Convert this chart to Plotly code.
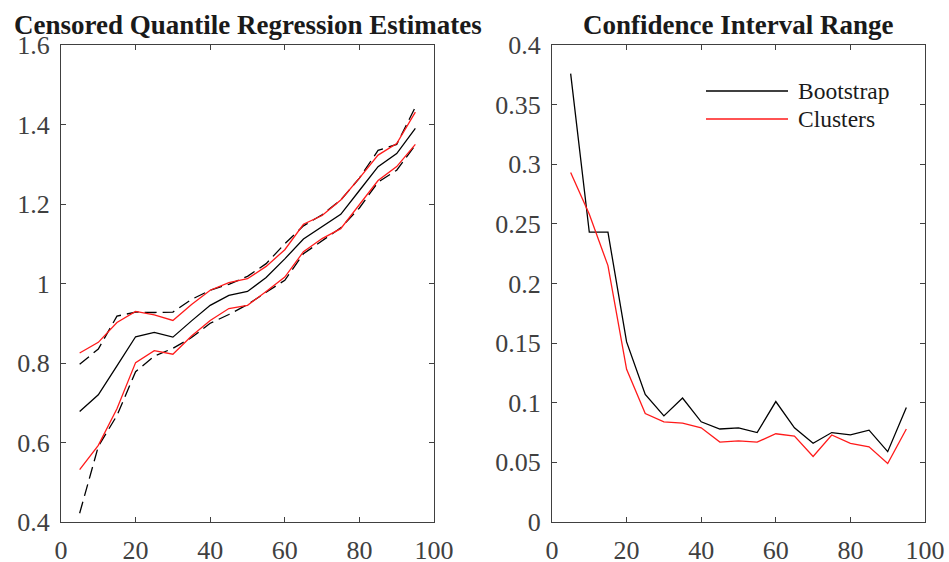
import plotly.graph_objects as go

# ---- data ----
quantiles = [5, 10, 15, 20, 25, 30, 35, 40, 45, 50, 55, 60, 65, 70, 75, 80, 85, 90, 95]

estimate = [0.678, 0.720, 0.793, 0.866, 0.877, 0.865, 0.906, 0.945, 0.970, 0.980,
            1.015, 1.062, 1.112, 1.143, 1.174, 1.234, 1.294, 1.327, 1.390]
clusters_upper = [0.825, 0.852, 0.902, 0.930, 0.921, 0.907, 0.947, 0.983, 1.002, 1.012,
                  1.043, 1.085, 1.149, 1.171, 1.210, 1.265, 1.323, 1.352, 1.431]
clusters_lower = [0.532, 0.593, 0.685, 0.801, 0.831, 0.822, 0.868, 0.907, 0.937, 0.945,
                  0.980, 1.016, 1.080, 1.113, 1.138, 1.198, 1.259, 1.294, 1.350]
bootstrap_upper = [0.797, 0.835, 0.918, 0.928, 0.927, 0.928, 0.960, 0.983, 0.998, 1.018,
                   1.050, 1.100, 1.145, 1.173, 1.210, 1.265, 1.335, 1.350, 1.444]
bootstrap_lower = [0.422, 0.590, 0.668, 0.778, 0.817, 0.837, 0.864, 0.900, 0.922, 0.947,
                   0.978, 1.008, 1.075, 1.108, 1.140, 1.190, 1.255, 1.285, 1.348]

range_bootstrap = [0.376, 0.243, 0.243, 0.151, 0.107, 0.089, 0.104, 0.084, 0.078, 0.079,
                   0.075, 0.101, 0.079, 0.066, 0.075, 0.073, 0.077, 0.059, 0.096]
range_clusters = [0.293, 0.258, 0.215, 0.128, 0.091, 0.084, 0.083, 0.079, 0.067, 0.068,
                  0.067, 0.074, 0.072, 0.055, 0.073, 0.066, 0.063, 0.049, 0.078]

x_ticks = [0, 20, 40, 60, 80, 100]
left_y_ticks = [0.4, 0.6, 0.8, 1.0, 1.2, 1.4, 1.6]
left_y_labels = ["0.4", "0.6", "0.8", "1", "1.2", "1.4", "1.6"]
right_y_ticks = [0, 0.05, 0.1, 0.15, 0.2, 0.25, 0.3, 0.35, 0.4]
right_y_labels = ["0", "0.05", "0.1", "0.15", "0.2", "0.25", "0.3", "0.35", "0.4"]

titles = ["Censored Quantile Regression Estimates", "Confidence Interval Range"]
legend_names = ["Bootstrap", "Clusters"]

# ---- style ----
W, H = 949, 562
FONT = "Liberation Serif"
AX = "#404040"
RED = "#ff1a1a"
BLACK = "#000000"
DASH = "12px,6px"
LW = 1.3


def px(x):
    return x / W


def py(y):
    return 1 - y / H


left_dom = [px(61), px(434)]
right_dom = [px(552), px(925)]
y_dom = [py(522), py(45)]

fig = go.Figure()

# left panel
fig.add_trace(go.Scatter(x=quantiles, y=bootstrap_upper, mode="lines",
                         line=dict(color=BLACK, width=LW, dash=DASH), xaxis="x", yaxis="y", showlegend=False))
fig.add_trace(go.Scatter(x=quantiles, y=bootstrap_lower, mode="lines",
                         line=dict(color=BLACK, width=LW, dash=DASH), xaxis="x", yaxis="y", showlegend=False))
fig.add_trace(go.Scatter(x=quantiles, y=estimate, mode="lines",
                         line=dict(color=BLACK, width=LW), xaxis="x", yaxis="y", showlegend=False))
fig.add_trace(go.Scatter(x=quantiles, y=clusters_upper, mode="lines",
                         line=dict(color=RED, width=LW), xaxis="x", yaxis="y", showlegend=False))
fig.add_trace(go.Scatter(x=quantiles, y=clusters_lower, mode="lines",
                         line=dict(color=RED, width=LW), xaxis="x", yaxis="y", showlegend=False))

# right panel
fig.add_trace(go.Scatter(x=quantiles, y=range_bootstrap, mode="lines", name=legend_names[0],
                         line=dict(color=BLACK, width=LW), xaxis="x2", yaxis="y2", showlegend=False))
fig.add_trace(go.Scatter(x=quantiles, y=range_clusters, mode="lines", name=legend_names[1],
                         line=dict(color=RED, width=LW), xaxis="x2", yaxis="y2", showlegend=False))

axis_common = dict(showline=True, mirror="allticks", linecolor=AX, linewidth=1,
                   ticks="inside", ticklen=5, tickcolor=AX, tickwidth=1,
                   showgrid=False, zeroline=False, automargin=False,
                   tickfont=dict(family=FONT, size=26, color=AX))

fig.update_layout(
    width=W, height=H,
    margin=dict(l=0, r=0, t=0, b=0, pad=0),
    paper_bgcolor="white", plot_bgcolor="white",
    xaxis=dict(domain=left_dom, range=[0, 100], tickvals=x_ticks, anchor="y",
               ticklabelstandoff=5, **axis_common),
    yaxis=dict(domain=y_dom, range=[0.4, 1.6], tickvals=left_y_ticks, ticktext=left_y_labels,
               anchor="x", ticklabelstandoff=5, **axis_common),
    xaxis2=dict(domain=right_dom, range=[0, 100], tickvals=x_ticks, anchor="y2",
                ticklabelstandoff=5, **axis_common),
    yaxis2=dict(domain=y_dom, range=[0, 0.4], tickvals=right_y_ticks, ticktext=right_y_labels,
                anchor="x2", ticklabelstandoff=5, **axis_common),
)

# titles
for dom, t in zip([left_dom, right_dom], titles):
    fig.add_annotation(x=(dom[0] + dom[1]) / 2, y=py(25), xref="paper", yref="paper",
                       text="<b>" + t + "</b>", showarrow=False, xanchor="center", yanchor="middle",
                       font=dict(family=FONT, size=27, color="#1a1a1a"))

# legend (drawn in the right panel)
leg_rows = [(91, BLACK), (119, RED)]
for (yy, col), name in zip(leg_rows, legend_names):
    fig.add_shape(type="line", xref="paper", yref="paper",
                  x0=px(706), x1=px(788), y0=py(yy), y1=py(yy),
                  line=dict(color=col, width=LW))
    fig.add_annotation(x=px(796), y=py(yy), xref="paper", yref="paper", text=name,
                       showarrow=False, xanchor="left", yanchor="middle",
                       font=dict(family=FONT, size=23.5, color="#1a1a1a"))

fig.write_html("out.html", config={"displayModeBar": False},
               post_script="document.body.style.margin='0';document.body.style.overflow='hidden';")
